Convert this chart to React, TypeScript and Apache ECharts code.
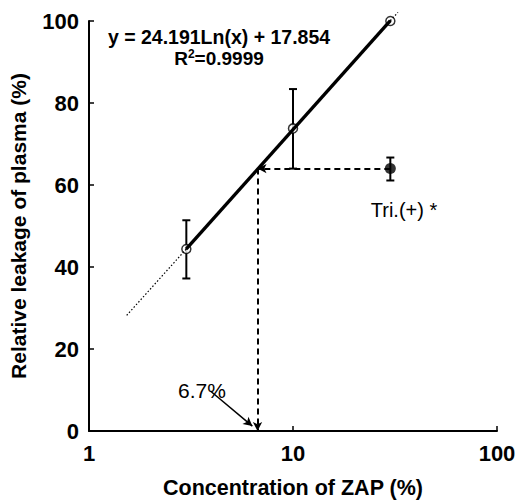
import React, { useEffect, useRef } from "react";
import * as echarts from "echarts";

// Measured data (concentration %, relative leakage %)
const zapX = [3, 10, 30];
const zapY = [44.4, 73.8, 100];
const zapErrLow = [37.2, 64.0, 100];
const zapErrHigh = [51.4, 83.4, 100];

const triX = [30];
const triY = [64];
const triErrLow = [61.1];
const triErrHigh = [66.7];

// Fit line y = 24.191 ln(x) + 17.854
const fitSolid = [[3, 44.4], [30, 100.1]];
const fitDottedLow = [[1.53, 28.2], [3, 44.4]];
const fitDottedHigh = [[30, 100.1], [32.7, 102.1]];

// Reading of Tri.(+) on the fit
const readX = 6.7;
const readY = 64;
const arrowFrom = [3.95, 9.7];
const arrowTo = [6.32, 1.2];

const xTicks = [1, 10, 100];
const yTicks = [0, 20, 40, 60, 80, 100];

const FONT = "'Liberation Sans', Arial, sans-serif";

export default function App() {
  const ref = useRef<HTMLDivElement>(null);
  useEffect(() => {
    if (!ref.current) return;
    const chart = echarts.init(ref.current, null, { renderer: "svg" });

    const errData = zapX
      .map((x, i) => [x, zapErrLow[i], zapErrHigh[i]])
      .filter((d) => d[1] !== d[2]);
    const triErr = triX.map((x, i) => [x, triErrLow[i], triErrHigh[i]]);

    const errRender = (capW: number) => (params: any, api: any) => {
      const x = api.value(0);
      const lo = api.coord([x, api.value(1)]);
      const hi = api.coord([x, api.value(2)]);
      const st = { stroke: "#000", lineWidth: 2 };
      return {
        type: "group",
        children: [
          { type: "line", shape: { x1: lo[0], y1: lo[1], x2: hi[0], y2: hi[1] }, style: st },
          { type: "line", shape: { x1: lo[0] - capW, y1: lo[1], x2: lo[0] + capW, y2: lo[1] }, style: st },
          { type: "line", shape: { x1: hi[0] - capW, y1: hi[1], x2: hi[0] + capW, y2: hi[1] }, style: st },
        ],
      };
    };

    const dashStyle = { color: "#000", width: 2, type: [6, 4] as any };

    chart.setOption({
      animation: false,
      backgroundColor: "#fff",
      grid: { left: 85, right: 22, top: 21, bottom: 61 },
      xAxis: {
        type: "log",
        logBase: 10,
        min: xTicks[0],
        max: xTicks[xTicks.length - 1],
        name: "Concentration of ZAP (%)",
        nameLocation: "middle",
        nameGap: 46,
        nameTextStyle: { fontFamily: FONT, fontWeight: "bold", fontSize: 21.5, color: "#000" },
        axisLine: { show: true, lineStyle: { color: "#000", width: 2 } },
        axisTick: { show: true, inside: true, length: 5, lineStyle: { color: "#000", width: 1.5 } },
        minorTick: { show: false },
        splitLine: { show: false },
        axisLabel: { fontFamily: FONT, fontWeight: "bold", fontSize: 22, color: "#000", margin: 11 },
      },
      yAxis: {
        type: "value",
        min: yTicks[0],
        max: yTicks[yTicks.length - 1],
        interval: 20,
        name: "Relative leakage of plasma (%)",
        nameLocation: "middle",
        nameGap: 60,
        nameTextStyle: { fontFamily: FONT, fontWeight: "bold", fontSize: 21, color: "#000" },
        axisLine: { show: true, lineStyle: { color: "#000", width: 2 } },
        axisTick: { show: true, inside: true, length: 5, lineStyle: { color: "#000", width: 1.5 } },
        splitLine: { show: false },
        axisLabel: { fontFamily: FONT, fontWeight: "bold", fontSize: 22, color: "#000", margin: 10 },
      },
      series: [
        {
          type: "line",
          data: fitDottedLow,
          symbol: "none",
          lineStyle: { color: "#000", width: 1.2, type: [1.5, 2] as any },
          silent: true,
        },
        {
          type: "line",
          data: fitDottedHigh,
          symbol: "none",
          clip: false,
          lineStyle: { color: "#000", width: 1.2, type: [1.5, 2] as any },
          silent: true,
        },
        {
          type: "line",
          data: fitSolid,
          symbol: "none",
          lineStyle: { color: "#000", width: 3.4 },
          silent: true,
        },
        {
          type: "custom",
          data: errData,
          renderItem: errRender(4),
          encode: { x: 0, y: [1, 2] },
          silent: true,
        },
        {
          type: "custom",
          data: triErr,
          renderItem: errRender(4),
          encode: { x: 0, y: [1, 2] },
          silent: true,
        },
        {
          type: "scatter",
          data: triX.map((x, i) => [x, triY[i]]),
          symbol: "circle",
          symbolSize: 11,
          itemStyle: { color: "#000" },
          silent: true,
          markLine: {
            silent: true,
            animation: false,
            symbol: ["none", "arrow"],
            symbolSize: [7, 9],
            label: { show: false },
            lineStyle: dashStyle,
            data: [
              [{ coord: [triX[0], triY[0]] }, { coord: [readX, readY] }],
              [{ coord: [readX, readY] }, { coord: [readX, 0] }],
              [
                { coord: arrowFrom, lineStyle: { type: "solid", width: 1.5, color: "#000" } },
                { coord: arrowTo },
              ],
            ],
          },
        },
        {
          type: "scatter",
          data: zapX.map((x, i) => [x, zapY[i]]),
          symbol: "circle",
          symbolSize: 9,
          clip: false,
          itemStyle: { color: "#fff", borderColor: "#000", borderWidth: 1.5 },
          silent: true,
        },
        {
          type: "scatter",
          data: zapX.map((x, i) => [x, zapY[i]]),
          symbol: "circle",
          symbolSize: 2,
          clip: false,
          itemStyle: { color: "#000" },
          silent: true,
        },
      ],
      graphic: [
        {
          type: "text",
          x: 219,
          y: 37,
          style: {
            text: "y = 24.191Ln(x) + 17.854",
            font: `bold 19.5px ${FONT}`,
            fill: "#000",
            align: "center",
            verticalAlign: "middle",
          },
        },
        {
          type: "text",
          x: 219,
          y: 58,
          style: {
            text: "R{s|2}=0.9999",
            font: `bold 19px ${FONT}`,
            fill: "#000",
            align: "center",
            verticalAlign: "middle",
            rich: {
              s: { fontSize: 12, fontWeight: "bold", fontFamily: FONT, verticalAlign: "top", padding: [0, 0, 8, 0] },
            },
          },
        },
        {
          type: "text",
          x: 202,
          y: 390,
          style: {
            text: "6.7%",
            font: `21px ${FONT}`,
            fill: "#000",
            align: "center",
            verticalAlign: "middle",
          },
        },
        {
          type: "text",
          x: 404,
          y: 210,
          style: {
            text: "Tri.(+) *",
            font: `20px ${FONT}`,
            fill: "#000",
            align: "center",
            verticalAlign: "middle",
          },
        },
      ],
    });
    return () => chart.dispose();
  }, []);
  return <div ref={ref} style={{ width: 519, height: 504, position: "absolute", left: 0, top: 0 }} />;
}
